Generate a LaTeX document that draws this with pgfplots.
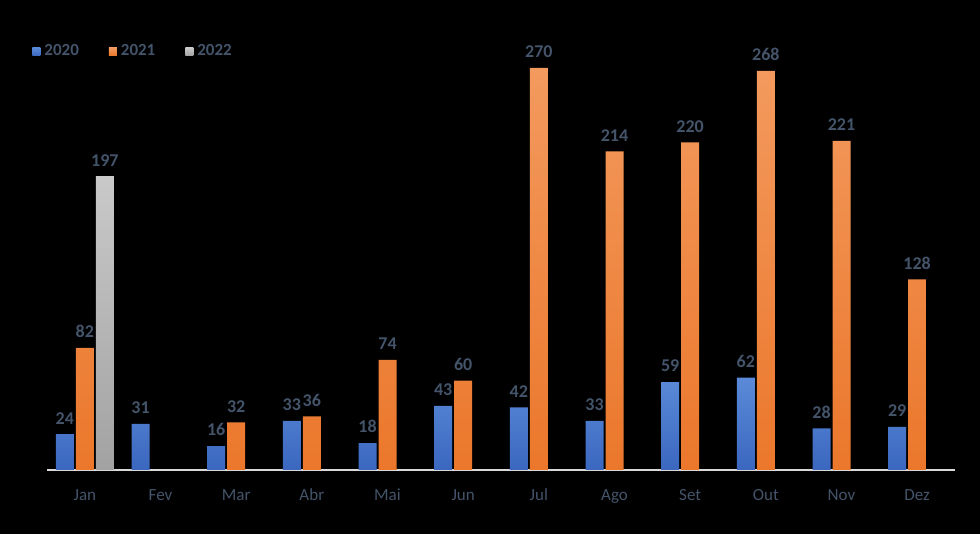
\documentclass[border=0pt]{standalone}
\usepackage{pgfplots}
\pgfplotsset{compat=1.18}
\usepackage{fontspec}
\setmainfont{Carlito}
\definecolor{labc}{HTML}{44546A}
\definecolor{btop}{HTML}{5A8AD8}
\definecolor{bbot}{HTML}{3B67BF}
\definecolor{otop}{HTML}{F39A5E}
\definecolor{obot}{HTML}{EB772B}
\definecolor{gtop}{HTML}{C9C9C9}
\definecolor{gbot}{HTML}{A2A2A2}
\definecolor{axc}{HTML}{D9D9D9}
\begin{document}
\begin{tikzpicture}
\fill[black] (0,0) rectangle (490pt,267pt);
\begin{axis}[
  at={(23.5pt,32pt)}, anchor=south west,
  scale only axis, width=454pt, height=223.4pt,
  xmin=-0.5, xmax=11.5, ymin=0, ymax=300,
  axis x line*=bottom, axis y line=none,
  x axis line style={-, draw=axc, line width=1pt},
  xtick={0,...,11},
  xticklabels={Jan,Fev,Mar,Abr,Mai,Jun,Jul,Ago,Set,Out,Nov,Dez},
  major tick length=0pt,
  xticklabel style={font=\fontsize{8.5}{10}\selectfont, text=labc, yshift=-4.5pt, text height=1.5ex, text depth=0.3ex},
  /pgf/number format/assume math mode=true,
  ybar, bar width=9pt,
  nodes near coords,
  every node near coord/.append style={font=\bfseries\fontsize{9}{10}\selectfont, text=labc, yshift=1.5pt},
  legend columns=3,
  legend style={at={(axis description cs:-0.0165,0.936)}, anchor=west, draw=none, fill=none,
    font=\bfseries\fontsize{8.5}{10}\selectfont, text=labc, inner sep=0pt,
    /tikz/every even column/.append style={column sep=13pt}},
  legend image code/.code={\fill[#1, draw=none] (0pt,-2pt) rectangle (4pt,2pt);},
]
\addplot[bar shift=-10pt, draw=none, top color=btop, bottom color=bbot] coordinates {
 (0,24) (1,31) (2,16) (3,33) (4,18) (5,43) (6,42) (7,33) (8,59) (9,62) (10,28) (11,29)};
\addplot[bar shift=0pt, draw=none, top color=otop, bottom color=obot] coordinates {
 (0,82) (2,32) (3,36) (4,74) (5,60) (6,270) (7,214) (8,220) (9,268) (10,221) (11,128)};
\addplot[bar shift=10pt, draw=none, top color=gtop, bottom color=gbot] coordinates {(0,197)};
\legend{2020,2021,2022}
\end{axis}
\end{tikzpicture}
\end{document}
